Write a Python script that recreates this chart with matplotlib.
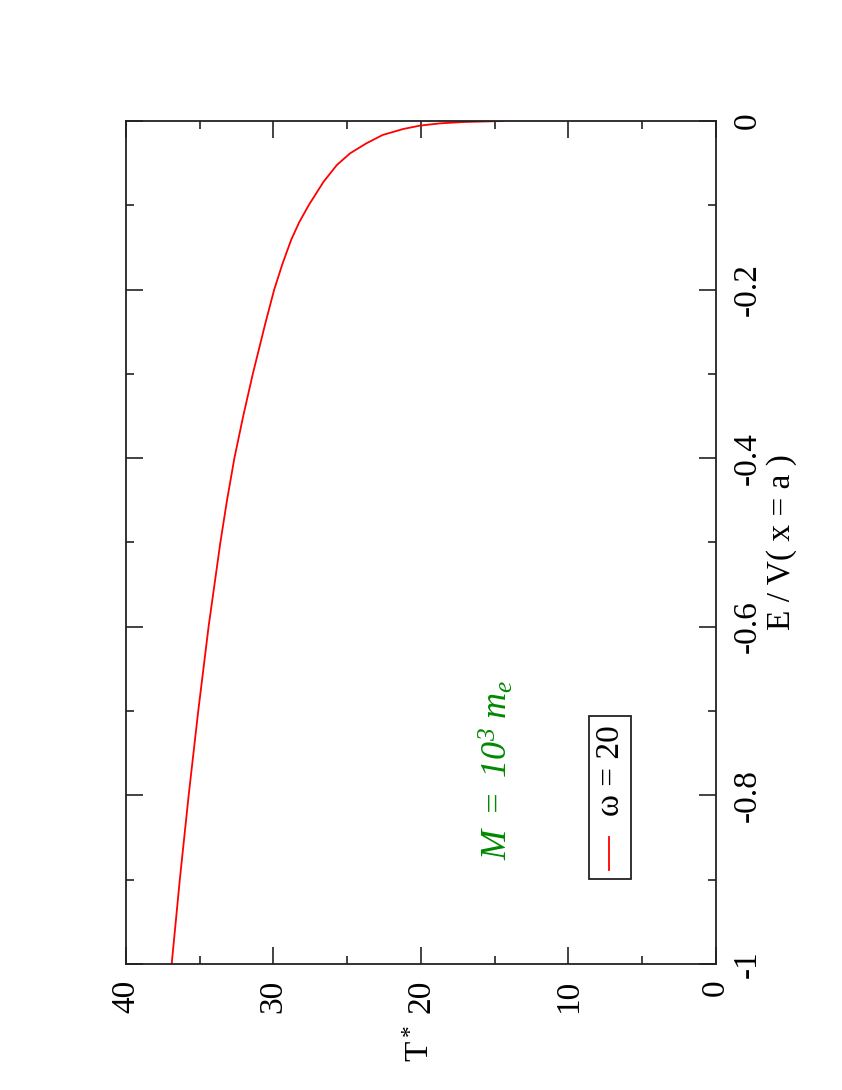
import matplotlib
matplotlib.use("Agg")
import matplotlib.pyplot as plt
from matplotlib.patches import Rectangle
from matplotlib.lines import Line2D
from matplotlib.ticker import MultipleLocator

plt.rcParams['font.family'] = ['Liberation Serif', 'DejaVu Serif']
plt.rcParams['mathtext.fontset'] = 'custom'
# mathtext only used for the green italic label; T* uses \mathregular
plt.rcParams['mathtext.rm'] = 'Liberation Serif:italic'
plt.rcParams['mathtext.it'] = 'Liberation Serif:italic'

# E / V(x=a) and T*
energy = [-1.0, -0.9, -0.8, -0.7, -0.6, -0.5, -0.45, -0.4, -0.35, -0.3,
          -0.24, -0.2, -0.17, -0.141, -0.12, -0.0996, -0.072, -0.0522,
          -0.0383, -0.0265, -0.0166, -0.0095, -0.0055, -0.0028, -0.0012,
          -0.0004, 0.0]
tstar = [36.9, 36.35, 35.75, 35.1, 34.4, 33.6, 33.15, 32.65, 32.05, 31.4,
         30.55, 29.95, 29.4, 28.8, 28.25, 27.6, 26.6, 25.7,
         24.8, 23.7, 22.6, 21.2, 20.07, 18.7, 17.1,
         15.3, 14.4]

x_ticks = [40, 30, 20, 10, 0]
y_ticks = [0, -0.2, -0.4, -0.6, -0.8, -1]
y_ticklabels = ['0', '-0.2', '-0.4', '-0.6', '-0.8', '-1']
legend_label = 'ω = 20'
mass_label = r'$M\ =\ 10^3\ m_e$'

fig = plt.figure(figsize=(8.42, 10.9), dpi=100)
ax = fig.add_axes([0.1496, 0.1156, 0.7007, 0.7734])

ax.plot(tstar, energy, color='red', lw=1.3)

ax.set_xlim(40, 0)
ax.set_ylim(-1, 0)
ax.set_xticks(x_ticks)
ax.set_xticklabels([str(t) for t in x_ticks])
ax.set_yticks(y_ticks)
ax.set_yticklabels(y_ticklabels)
ax.xaxis.set_minor_locator(MultipleLocator(5))
ax.yaxis.set_minor_locator(MultipleLocator(0.1))

for s in ax.spines.values():
    s.set_linewidth(1.3)
    s.set_color('#222222')

ax.tick_params(which='both', direction='in', top=True, bottom=True,
               left=True, right=True, width=1.2, color='#222222')
ax.tick_params(which='major', length=12)
ax.tick_params(which='minor', length=6)
ax.tick_params(axis='x', labelsize=24, pad=11, labelrotation=90)
ax.tick_params(axis='y', labelsize=24, pad=12, labelrotation=90,
               labelleft=False, labelright=True)
for lab in ax.get_xticklabels():
    lab.set_va('top')
    lab.set_ha('center')
for lab in ax.get_yticklabels():
    lab.set_va('center')
    lab.set_ha('left')

ax.set_xlabel(r'$\mathregular{T^*}$', fontsize=24, rotation=90, labelpad=9)
ax.xaxis.label.set_rotation_mode('default')
ax.yaxis.set_label_position('right')
ax.set_ylabel('E / V( x = a )', fontsize=24, labelpad=2)

ax.text(14.85, -0.77, mass_label, color='#008a00', fontsize=26,
        rotation=90, ha='center', va='center')

# hand-made legend box (rotated)
ax.add_patch(Rectangle((0.785, 0.101), 0.071, 0.193, transform=ax.transAxes,
                       fill=False, lw=1.3, edgecolor='#222222'))
ax.add_line(Line2D([0.819, 0.819], [0.112, 0.151], transform=ax.transAxes,
                   color='red', lw=1.3))
ax.text(0.822, 0.229, legend_label, transform=ax.transAxes, fontsize=24,
        rotation=90, ha='center', va='center')

fig.savefig('out.png', dpi=100)
